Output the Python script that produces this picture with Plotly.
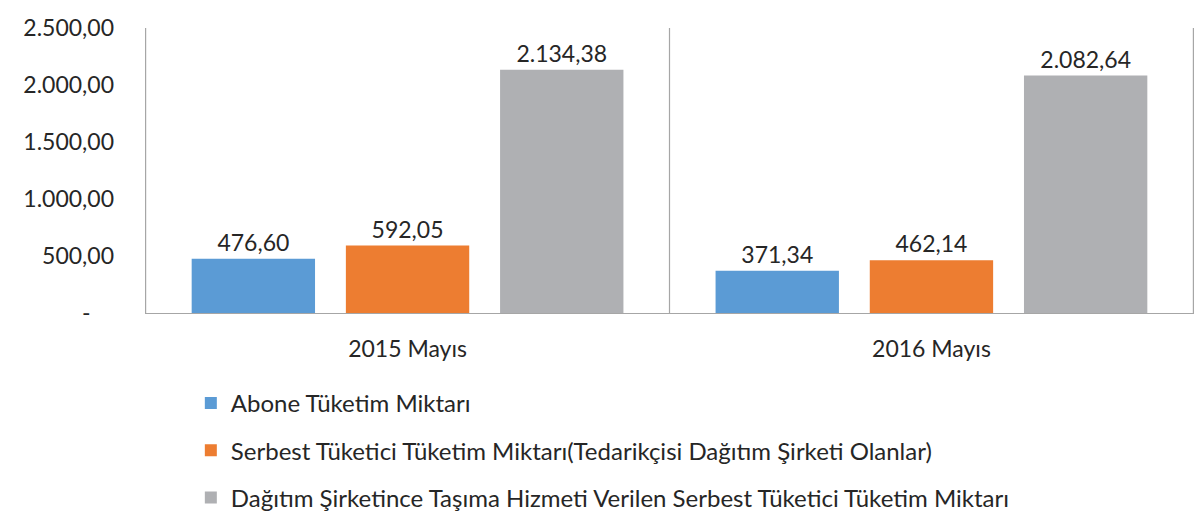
import plotly.graph_objects as go

categories = ["2015 Mayıs", "2016 Mayıs"]
series_names = [
    "Abone Tüketim Miktarı",
    "Serbest Tüketici Tüketim Miktarı(Tedarikçisi Dağıtım Şirketi Olanlar)",
    "Dağıtım Şirketince Taşıma Hizmeti Verilen Serbest Tüketici Tüketim Miktarı",
]
abone = [476.60, 371.34]
serbest = [592.05, 462.14]
tasima = [2134.38, 2082.64]
colors = ["#5B9BD5", "#ED7D31", "#AFB0B3"]
y_ticks = [0, 500, 1000, 1500, 2000, 2500]


def tr_fmt(v):
    s = f"{v:,.2f}"
    return s.replace(",", "X").replace(".", ",").replace("X", ".")


tick_text = [("-" + "\u00a0" * 4) if v == 0 else tr_fmt(v) for v in y_ticks]

FONT = "Lato"
TXT = "#262626"

fig = go.Figure()
for i, (name, vals) in enumerate(zip(series_names, [abone, serbest, tasima])):
    fig.add_trace(go.Bar(
        x=categories, y=vals, name=name,
        marker=dict(color=colors[i], line=dict(width=0)),
        text=[tr_fmt(v) for v in vals], textposition="outside",
        textfont=dict(family=FONT, size=23, color=TXT),
        cliponaxis=False, legendgroup=f"g{i}",
    ))

shapes = []
for xv in [-0.5, 0.5, 1.5]:
    shapes.append(dict(type="line", xref="x", yref="paper", x0=xv, x1=xv, y0=0, y1=1,
                       line=dict(color="#A6A6A6", width=1.2)))

fig.update_layout(
    width=1195, height=506,
    margin=dict(l=137, r=9, t=20, b=201, autoexpand=False),
    paper_bgcolor="white", plot_bgcolor="white",
    separators=",.",
    barmode="group", bargap=0.117, bargroupgap=0.2,
    font=dict(family=FONT, size=23, color=TXT),
    showlegend=True,
    legend=dict(
        orientation="v", xref="container", yref="container",
        x=0.153, y=0.263, xanchor="left", yanchor="top",
        font=dict(family=FONT, size=24, color=TXT),
        traceorder="grouped", tracegroupgap=13,
        itemsizing="constant", bgcolor="rgba(0,0,0,0)",
    ),
    xaxis=dict(
        showgrid=False, showline=True, linecolor="#A6A6A6", linewidth=1.2,
        ticks="", ticklabelstandoff=15,
        tickfont=dict(family=FONT, size=23, color=TXT),
    ),
    yaxis=dict(
        range=[0, 2500], tickvals=y_ticks, ticktext=tick_text,
        showgrid=False, showline=False, zeroline=False,
        ticks="", ticklabelstandoff=30,
        tickfont=dict(family=FONT, size=23, color=TXT),
    ),
    shapes=shapes,
)

fig.write_html("out.html")
